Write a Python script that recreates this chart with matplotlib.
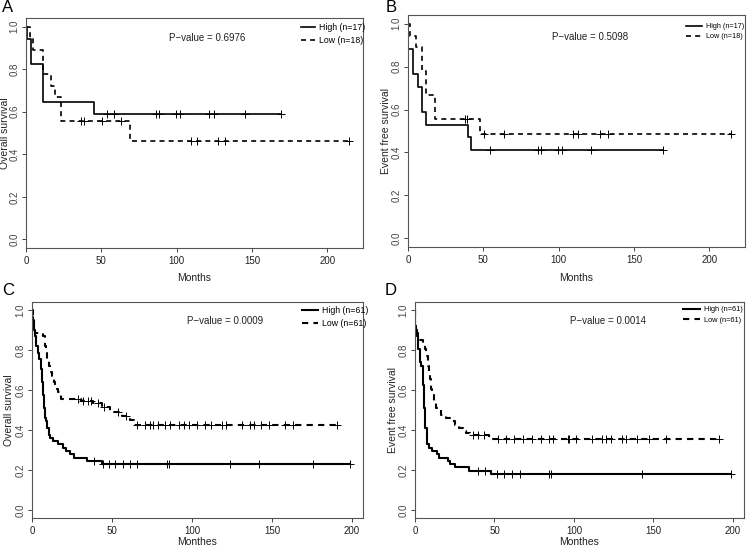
import numpy as np
import matplotlib
matplotlib.use("Agg")
import matplotlib.pyplot as plt

plt.rcParams['font.family'] = ['Liberation Sans Narrow', 'Liberation Sans', 'DejaVu Sans']

W, H = 748, 547

# ---------------- data ----------------
# A: overall survival, n=17 / n=18
A_high_t = [0.5, 3.1, 11.5, 45.2]
A_high_s = [0.941, 0.824, 0.647, 0.588]
A_high_c = [54, 58.4, 86, 88.2, 99.2, 102.3, 121.3, 125, 145.3, 169.1]
A_low_t = [2.5, 4.9, 11, 16.3, 19, 23, 68.8]
A_low_s = [0.944, 0.889, 0.778, 0.722, 0.667, 0.556, 0.463]
A_low_c = [36.8, 38.4, 50.5, 63.3, 109.6, 113.3, 127.2, 131.9, 214]

# B: event free survival, n=17 / n=18
B_high_t = [0.3, 3.3, 6.6, 9.3, 12.1, 40.1, 41.5]
B_high_s = [0.882, 0.765, 0.706, 0.588, 0.529, 0.471, 0.412]
B_high_c = [54.7, 86.4, 88.2, 99.2, 102.5, 121.3, 169.3]
B_low_t = [1, 5.5, 9.5, 11.7, 17.6, 47.8]
B_low_s = [0.944, 0.889, 0.778, 0.667, 0.556, 0.486]
B_low_c = [37.5, 39.2, 50.7, 64, 109.8, 112.9, 127.4, 132.5, 214.5]

# C: overall survival, n=61 / n=61
C_high_t = [0.3, 0.8, 1.3, 1.8, 2.5, 3.5, 4.6, 5.5, 6.3, 6.9, 7.3, 7.9, 8.5, 9.4,
            10.4, 11.5, 13, 16.5, 19.5, 21.5, 24, 26.5, 34.5, 43.5]
C_high_s = [0.967, 0.934, 0.902, 0.869, 0.82, 0.787, 0.754, 0.705, 0.64, 0.574, 0.508,
            0.459, 0.443, 0.41, 0.377, 0.36, 0.344, 0.328, 0.311, 0.295, 0.279, 0.262,
            0.246, 0.228]
C_high_c = [38.75, 44.6, 48, 52, 57, 61, 65.5, 84.4, 85.4, 124, 142, 175.6, 199]
C_low_t = [0.4, 1.0, 1.7, 6.9, 8.2, 8.6, 9.5, 10.5, 11.5, 12.5, 13.5, 14.5, 16, 18,
           30.5, 38, 44, 48.5, 56, 61, 63.5]
C_low_s = [0.967, 0.918, 0.885, 0.869, 0.82, 0.787, 0.754, 0.721, 0.689, 0.672, 0.639,
           0.607, 0.59, 0.557, 0.546, 0.533, 0.513, 0.492, 0.471, 0.449, 0.425]
C_low_c = [28.8, 32, 35, 37, 41, 45, 53.7, 59, 65.5, 70.4, 74, 75.5, 79, 83, 86, 92, 95,
           98, 103, 108, 112, 119, 121, 131, 136, 139, 143, 148, 158, 163, 191]

# D: event free survival, n=61 / n=61
D_high_t = [0.3, 0.6, 1, 1.7, 2.1, 3, 4, 4.8, 5.4, 6, 6.6, 7.5, 8.5, 11, 14, 15, 20.5,
            22, 25, 34, 47.5]
D_high_s = [0.918, 0.902, 0.869, 0.836, 0.803, 0.738, 0.721, 0.623, 0.508, 0.475, 0.41,
            0.328, 0.311, 0.295, 0.279, 0.262, 0.246, 0.23, 0.213, 0.197, 0.178]
D_high_c = [39.5, 44, 51.5, 56, 61, 66, 84, 85.5, 142.5, 199]
D_low_t = [0.3, 1.2, 2, 4.8, 6.5, 7.2, 7.9, 8.6, 9.4, 10, 11, 12, 13.2, 16.3, 19.4,
           22.6, 25, 27.5, 30, 32, 34.5, 46.5]
D_low_s = [0.918, 0.885, 0.852, 0.836, 0.803, 0.77, 0.721, 0.689, 0.656, 0.607, 0.574,
           0.541, 0.508, 0.475, 0.459, 0.443, 0.426, 0.41, 0.393, 0.385, 0.375, 0.357]
D_low_c = [36.3, 39.9, 43.7, 52, 57.5, 62, 68, 73.5, 79, 84, 86.5, 96, 97, 101, 111.5,
           117.5, 120, 123, 130, 133, 139.5, 147.5, 158, 191]

panels = [
    # letter, box px (left, top, right, bottom), ylabel, xlabel, pval, n, data, xmax, lw
    ("A", (26, 18, 363, 248), "Overall survival", "Months", "P\u2212value = 0.6976", (17, 18),
     (A_high_t, A_high_s, A_high_c, A_low_t, A_low_s, A_low_c), 215 * 1.04, 1.2),
    ("B", (408, 15, 745, 247), "Event free survival", "Months", "P\u2212value = 0.5098", (17, 18),
     (B_high_t, B_high_s, B_high_c, B_low_t, B_low_s, B_low_c), 215 * 1.04, 1.2),
    ("C", (32, 302, 363, 518), "Overall survival", "Monthes", "P\u2212value = 0.0009", (61, 61),
     (C_high_t, C_high_s, C_high_c, C_low_t, C_low_s, C_low_c), 199 * 1.04, 1.5),
    ("D", (415, 302, 744, 518), "Event free survival", "Monthes", "P\u2212value = 0.0014", (61, 61),
     (D_high_t, D_high_s, D_high_c, D_low_t, D_low_s, D_low_c), 199 * 1.04, 1.5),
]

# where things sit, in figure pixels
letter_xy = {"A": (8, 7), "B": (391, 7), "C": (8, 291), "D": (391, 291)}
pval_xy = {"A": (207, 38), "B": (590, 37), "C": (225, 321), "D": (608, 321)}
legend_xy = {"A": (301, 23), "B": (686, 23), "C": (302, 306), "D": (683, 306)}
legend_fs = {"A": 6.3, "B": 5.2, "C": 6.3, "D": 5.3}
legend_hl = {"A": 1.6, "B": 2.2, "C": 1.8, "D": 2.3}
ylabel_x = {"A": 10, "B": 391, "C": 14, "D": 398}   # right edge of the rotated label
xlabel_y = {"A": 273, "B": 273, "C": 537, "D": 537}  # top edge of the label

grey = "#444444"


def km_draw(ax, t, s, c, ls, lw):
    x = np.concatenate([[0], t, [max(max(t), max(c))]])
    y = np.concatenate([[1.0], s, [s[-1]]])
    line, = ax.step(x, y, where="post", color="black", lw=lw, linestyle=ls)
    if ls != "-":
        line.set_dashes((3, 2.5))
    # censor marks sit on the curve
    idx = np.searchsorted(t, c, side="right")
    levels = np.concatenate([[1.0], s])[idx]
    ax.plot(c, levels, linestyle="none", marker="+", ms=5.5, mew=0.7, color="black")
    return line


fig = plt.figure(figsize=(W / 100, H / 100), dpi=100)

for letter, box, ylab, xlab, pval, n, d, xmax, lw in panels:
    l, t_, r, b = box
    ax = fig.add_axes([l / W, 1 - b / H, (r - l) / W, (b - t_) / H])
    h1 = km_draw(ax, d[0], d[1], d[2], "-", lw)
    h2 = km_draw(ax, d[3], d[4], d[5], "--", lw)
    ax.set_xlim(0, xmax)
    ax.set_ylim(-0.04, 1.04)
    ax.set_xticks([0, 50, 100, 150, 200])
    ax.set_yticks([0, 0.2, 0.4, 0.6, 0.8, 1.0])
    ax.set_yticklabels(["0.0", "0.2", "0.4", "0.6", "0.8", "1.0"], rotation=90, va="center")
    ax.tick_params(axis="both", labelsize=7, colors=grey, length=3, width=0.7, pad=1.5)
    ax.tick_params(axis="x", labelcolor="#222222", pad=2.5)
    for sp in ax.spines.values():
        sp.set_color("#555555")
        sp.set_linewidth(0.8)

    ax.set_ylabel(ylab, fontsize=7.5, color="#222222")
    ax.yaxis.set_label_coords((ylabel_x[letter] - l) / (r - l), 0.5)
    ax.set_xlabel(xlab, fontsize=7.5, color="#222222")
    ax.xaxis.set_label_coords(0.5, (b - xlabel_y[letter]) / (b - t_))

    px, py = pval_xy[letter]
    fig.text(px / W, 1 - py / H, pval, fontsize=7, ha="center", va="center", color="#222222")

    lx, ly = legend_xy[letter]
    ax.legend([h1, h2], ["High (n=%d)" % n[0], "Low (n=%d)" % n[1]],
              loc="upper left", bbox_to_anchor=(lx / W, 1 - ly / H),
              bbox_transform=fig.transFigure, frameon=False, fontsize=legend_fs[letter],
              handlelength=legend_hl[letter], handletextpad=0.5, labelspacing=0.45,
              borderpad=0, borderaxespad=0)

    lx, ly = letter_xy[letter]
    fig.text(lx / W, 1 - ly / H, letter, fontsize=12, ha="center", va="center")

fig.savefig("out.png", dpi=100)
